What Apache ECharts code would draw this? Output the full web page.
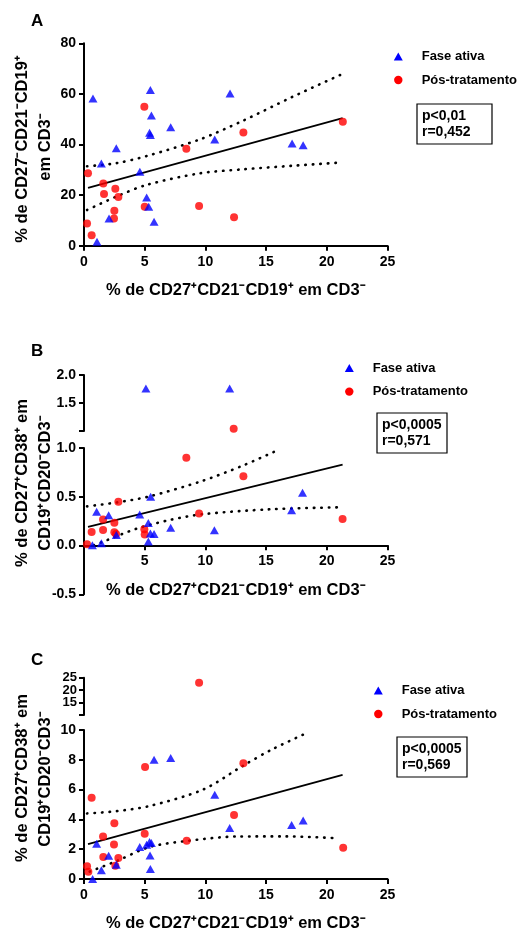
<!DOCTYPE html>
<html>
<head>
<meta charset="utf-8">
<script src="https://cdn.jsdelivr.net/npm/echarts@6/dist/echarts.min.js"></script>
<style>
  html, body { margin: 0; background: #fff; }
  #chart { width: 518px; height: 933px; }
</style>
</head>
<body>
<div id="chart"></div>
<script>
// panel A: % CD27+CD21-CD19+ (x) vs % CD27-CD21-CD19+ (y)
const aAtiva = [[0.74,58.2],[1.07,1.6],[1.43,32.5],[2.06,10.8],[2.66,38.5],[4.6,29.2],[5.16,19.1],[5.33,15.4],[5.47,61.5],[5.55,51.5],[5.4,44.6],[5.47,43.8],[5.77,9.5],[7.14,46.8],[10.77,42.0],[12.03,60.2],[17.14,40.4],[18.05,39.7]]
const aPos = [[0.33,28.6],[0.25,8.8],[0.63,4.1],[1.59,24.6],[1.65,20.4],[2.58,22.5],[2.83,19.2],[2.5,13.8],[2.47,10.8],[4.97,54.9],[5.0,15.4],[8.43,38.3],[9.48,15.7],[12.36,11.2],[13.13,44.7],[21.32,49.0]]
const aFit = [[0.33,22.9],[21.3,50.4]]
const aUpper = [[0.25,31.4],[2.66,32.6],[5.14,35.4],[9.53,42.0],[13.1,49.4],[17.2,58.9],[21.3,67.9]]
const aLower = [[0.25,14.1],[2.66,19.4],[5.14,24.0],[9.53,28.6],[13.1,30.2],[17.2,31.6],[20.9,32.8]]

// panel B: y = % CD27+CD38+ em CD19+CD20-CD3-
const bAtiva = [[1.04,0.345],[0.69,0.0],[1.43,0.02],[2.03,0.31],[2.66,0.105],[4.59,0.317],[5.3,0.23],[5.3,0.04],[5.47,0.12],[5.77,0.116],[5.49,0.5],[7.14,0.18],[10.74,0.154],[17.1,0.36],[18.0,0.54],[5.1,1.76],[12.0,1.76]]
const bPos = [[0.25,0.01],[0.63,0.137],[1.57,0.266],[1.57,0.157],[2.5,0.232],[2.5,0.133],[2.64,0.116],[2.83,0.447],[4.97,0.164],[5.0,0.11],[8.43,0.9],[9.48,0.328],[12.33,1.04],[13.13,0.71],[21.3,0.27]]
const bFit = [[0.33,0.19],[21.3,0.83]]
const bUpper = [[0.25,0.4],[2.66,0.44],[5.3,0.5],[9.7,0.66],[13.1,0.82],[16.0,0.98]]
const bLower = [[0.8,0.0],[1.43,0.03],[4.32,0.17],[7.06,0.26],[9.8,0.32],[15.3,0.37],[20.9,0.39]]

// panel C
const cAtiva = [[0.71,0.0],[1.04,2.37],[1.43,0.58],[2.03,1.56],[2.66,0.96],[4.59,2.14],[5.16,2.3],[5.4,2.48],[5.55,2.41],[5.44,1.58],[5.47,0.67],[5.77,8.0],[7.14,8.12],[10.77,5.65],[12.0,3.42],[17.1,3.62],[18.05,3.93]]
const cPos = [[0.25,0.85],[0.36,0.49],[0.63,5.45],[1.57,2.86],[1.59,1.47],[2.5,3.75],[2.47,2.32],[2.58,0.89],[2.83,1.41],[5.0,3.04],[5.03,7.52],[8.46,2.57],[9.48,23.0],[12.36,4.29],[13.13,7.77],[21.35,2.1]]
const cFit = [[0.33,2.34],[21.3,6.99]]
const cUpper = [[0.25,4.4],[2.66,4.55],[5.4,4.9],[9.8,6.0],[13.1,7.6],[15.5,8.7],[18.4,9.82]]
const cLower = [[0.47,0.5],[2.67,1.2],[5.41,2.15],[8.44,2.55],[12.56,2.85],[16.7,2.86],[20.8,2.74]]

const xTitle = '% de CD27⁺CD21⁻CD19⁺ em CD3⁻'
const pLabels = [['p<0,01', 'r=0,452'], ['p<0,0005', 'r=0,571'], ['p<0,0005', 'r=0,569']]

const FONT = 'Liberation Sans, Arial, sans-serif'
const BLUE = '#0000ff'
const RED = '#ff0000'

const chart = echarts.init(document.getElementById('chart'))

const axLine = { show: true, onZero: false, lineStyle: { color: '#000', width: 2 } }
const axTick = { show: true, length: 5, lineStyle: { color: '#000', width: 2 } }
const lblStyle = { color: '#000', fontFamily: FONT, fontWeight: 'bold', fontSize: 14, showMinLabel: true, showMaxLabel: true, hideOverlap: false }
const nameStyle = { color: '#000', fontFamily: FONT, fontWeight: 'bold', fontSize: 16.5 }

function xAx(gi, show, extra) {
  return Object.assign({
    gridIndex: gi, type: 'value', min: 0, max: 25, interval: 5, show,
    axisLine: axLine, axisTick: axTick, splitLine: { show: false },
    axisLabel: Object.assign({ margin: 9 }, lblStyle)
  }, extra || {})
}

function yAx(gi, min, max, interval, fmt, lbl) {
  return {
    gridIndex: gi, type: 'value', position: 'left', min, max, interval,
    axisLine: axLine, axisTick: axTick, splitLine: { show: false },
    axisLabel: Object.assign({ margin: 8, formatter: fmt }, lblStyle, lbl || {})
  }
}

function scatter(data, xi, sym) {
  return {
    type: 'scatter', xAxisIndex: xi, yAxisIndex: xi, data,
    symbol: sym, symbolSize: sym === 'triangle' ? [9, 8] : 8,
    itemStyle: { color: sym === 'triangle' ? BLUE : RED },
    z: sym === 'triangle' ? 4 : 3, silent: true
  }
}
function line(data, xi, dotted) {
  return {
    type: 'line', xAxisIndex: xi, yAxisIndex: xi, data, showSymbol: false,
    smooth: dotted ? 0.3 : false, silent: true, z: 2,
    lineStyle: dotted
      ? { color: '#000', width: 2.6, type: [0.5, 7], cap: 'round' }
      : { color: '#000', width: 1.8 }
  }
}

const inRange = (pts, lo, hi) => pts.filter(p => p[1] >= lo && p[1] <= hi)

const series = [
  line(aFit, 0), line(aUpper, 0, true), line(aLower, 0, true),
  scatter(aPos, 0, 'circle'), scatter(aAtiva, 0, 'triangle'),

  line(bFit, 1), line(bUpper, 1, true), line(bLower, 1, true),
  scatter(inRange(bPos, 0, 1.0), 1, 'circle'), scatter(inRange(bAtiva, 0, 1.0), 1, 'triangle'),
  scatter(inRange(bPos, 1.0001, 2), 2, 'circle'), scatter(inRange(bAtiva, 1.0001, 2), 2, 'triangle'),

  line(cFit, 3), line(cUpper, 3, true), line(cLower, 3, true),
  scatter(inRange(cPos, 0, 10), 3, 'circle'), scatter(inRange(cAtiva, 0, 10), 3, 'triangle'),
  scatter(inRange(cPos, 10.0001, 25), 4, 'circle'), scatter(inRange(cAtiva, 10.0001, 25), 4, 'triangle')
]

// texts outside the plots
const graphics = []
function txt(text, x, y, size, opts) {
  graphics.push(Object.assign({
    type: 'text', x, y,
    style: { text, fill: '#000', font: 'bold ' + size + 'px ' + FONT, align: 'left', verticalAlign: 'middle' }
  }, opts || {}))
}
function vtxt(text, x, y) {
  graphics.push({
    type: 'text', x, y, rotation: Math.PI / 2,
    style: { text, fill: '#000', font: 'bold 16.5px ' + FONT, align: 'center', verticalAlign: 'middle' }
  })
}
function legend(x, y, tx) {
  graphics.push({ type: 'polygon', shape: { points: [[x, y - 4.2], [x + 4.5, y + 3.8], [x - 4.5, y + 3.8]] }, style: { fill: BLUE } })
  graphics.push({ type: 'circle', shape: { cx: x, cy: y + 23.3, r: 4.2 }, style: { fill: RED } })
  txt('Fase ativa', tx, y, 13)
  txt('Pós-tratamento', tx, y + 23.3, 13)
}
function statBox(x, y, w, lines) {
  graphics.push({ type: 'rect', shape: { x, y, width: w, height: 40 }, style: { fill: 'none', stroke: '#000', lineWidth: 1.2 } })
  txt(lines[0], x + 5, y + 12, 14)
  txt(lines[1], x + 5, y + 28.5, 14)
}

txt('A', 31, 21, 17)
txt('B', 31, 351, 17)
txt('C', 31, 660, 17)

vtxt('% de CD27⁻CD21⁻CD19⁺', 22, 149)
vtxt('em CD3⁻', 45, 147)
vtxt('% de CD27⁺CD38⁺ em', 22, 483)
vtxt('CD19⁺CD20⁻CD3⁻', 45, 483)
vtxt('% de CD27⁺CD38⁺ em', 22, 778)
vtxt('CD19⁺CD20⁻CD3⁻', 45, 779)

legend(398.3, 56.7, 421.7)
legend(349.3, 368.3, 372.7)
legend(378.3, 690.7, 401.7)

statBox(417, 104, 75, pLabels[0])
statBox(377, 413, 70, pLabels[1])
statBox(397, 737, 70, pLabels[2])

const fix1 = v => v.toFixed(1)
const upperC = { fontSize: 13, lineHeight: 10, margin: 7 }

// second label-only axis on the C upper segment, so the tightly packed "20" is kept
const cMidAxis = yAx(4, 10, 25, 10, v => (v === 20 ? '20' : ''), upperC)
cMidAxis.axisLine = { show: false, onZero: false }
cMidAxis.axisTick = { show: false }
cMidAxis.offset = 0

chart.setOption({
  animation: false,
  backgroundColor: '#fff',
  grid: [
    { left: 84, top: 43.3, width: 303.5, height: 202.4 },   // A
    { left: 84, top: 448, width: 303.5, height: 97.3 },     // B 0..1
    { left: 84, top: 375, width: 303.5, height: 56 },       // B upper 1..2
    { left: 84, top: 730, width: 303.5, height: 149.3 },    // C 0..10
    { left: 84, top: 677.7, width: 303.5, height: 37.3 },   // C upper 10..25
    { left: 84, top: 545.3, width: 303.5, height: 49 }      // B below zero
  ],
  xAxis: [
    xAx(0, true, { name: xTitle, nameLocation: 'middle', nameGap: 36, nameTextStyle: nameStyle }),
    xAx(1, true, {
      name: xTitle, nameLocation: 'middle', nameGap: 37, nameTextStyle: nameStyle,
      axisLabel: Object.assign({ margin: 9, formatter: v => (v === 0 ? '' : v) }, lblStyle)
    }),
    xAx(2, false),
    xAx(3, true, { name: xTitle, nameLocation: 'middle', nameGap: 36, nameTextStyle: nameStyle }),
    xAx(4, false),
    xAx(5, false)
  ],
  yAxis: [
    yAx(0, 0, 80, 20),
    yAx(1, 0, 1.0, 0.5, fix1),
    yAx(2, 1.0, 2.0, 0.5, v => (v === 1 ? '' : v.toFixed(1))),
    yAx(3, 0, 10, 2),
    yAx(4, 10, 25, 5, v => (v === 15 || v === 25 ? String(v) : ''), upperC),
    yAx(5, -0.5, 0, 0.5, v => (v === 0 ? '' : v.toFixed(1))),
    cMidAxis
  ],
  series,
  graphic: graphics
})
</script>
</body>
</html>
